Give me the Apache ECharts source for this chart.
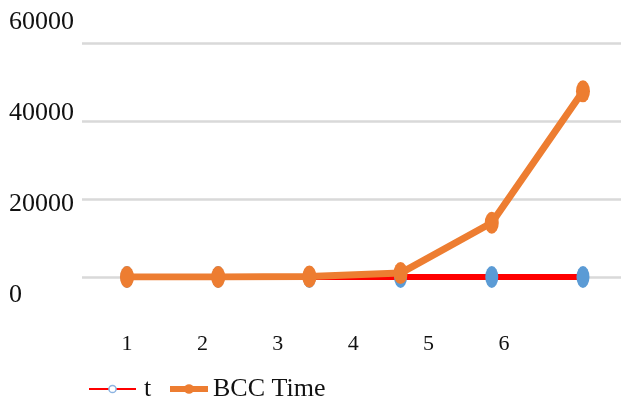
<!DOCTYPE html>
<html>
<head>
<meta charset="utf-8">
<script src="https://cdn.jsdelivr.net/npm/echarts@6/dist/echarts.min.js"></script>
<style>
  html, body { margin: 0; padding: 0; background: #fff; }
  #chart { width: 621px; height: 402px; }
</style>
</head>
<body>
<div id="chart"></div>
<script>
// Run index on the horizontal axis
const categories = [1, 2, 3, 4, 5, 6];
// Series values
const tValues = [0, 0, 0, 0, 0, 0];
const bccTime = [0, 0, 100, 1000, 13900, 47600];
// Tick labels
const yTicks = [0, 20000, 40000, 60000];
const xTicks = ['1', '2', '3', '4', '5', '6'];

const FONT = 'Liberation Serif';
const TEXT = '#111';

const chart = echarts.init(document.getElementById('chart'), null, { renderer: 'canvas' });

const pairs = (vals) => categories.map((c, i) => [c, vals[i]]);

chart.setOption({
  animation: false,
  backgroundColor: '#fff',
  grid: [
    // plotting area
    { left: 82, right: 0, top: 43, bottom: 125 },
    // row of run labels below the plot
    { left: 127, right: 117, top: 330, height: 1 },
    // column of value labels
    { left: 9, width: 1, top: 22, bottom: 107 }
  ],
  xAxis: [
    {
      gridIndex: 0, type: 'value', min: 0.507, max: 6.417,
      axisLine: { show: false }, axisTick: { show: false },
      axisLabel: { show: false }, splitLine: { show: false }
    },
    {
      gridIndex: 1, type: 'value', min: 1, max: 6, interval: 1,
      axisLine: { show: false }, axisTick: { show: false }, splitLine: { show: false },
      axisLabel: {
        margin: 2, fontFamily: FONT, fontSize: 22, color: TEXT,
        formatter: (v) => xTicks[Math.round(v) - 1] || ''
      }
    },
    {
      gridIndex: 2, type: 'value', show: false
    }
  ],
  yAxis: [
    {
      gridIndex: 0, type: 'value', min: yTicks[0], max: yTicks[yTicks.length - 1], interval: 20000,
      axisLine: { show: false }, axisTick: { show: false }, axisLabel: { show: false },
      splitLine: { lineStyle: { color: '#d9d9d9', width: 2.5 } }
    },
    {
      gridIndex: 1, type: 'value', show: false
    },
    {
      gridIndex: 2, type: 'value', min: yTicks[0], max: yTicks[yTicks.length - 1], interval: 20000,
      axisLine: { show: false }, axisTick: { show: false }, splitLine: { show: false },
      axisLabel: {
        margin: 0, align: 'left', fontFamily: FONT, fontSize: 26, color: TEXT,
        formatter: (v) => String(v)
      }
    }
  ],
  legend: [
    {
      left: 88, top: 376, padding: 0,
      itemWidth: 47, itemHeight: 9,
      textStyle: { fontFamily: FONT, fontSize: 26, color: TEXT, padding: [0, 0, 0, 3] },
      data: [{
        name: 't',
        itemStyle: { color: '#fff', borderColor: '#8db4e2', borderWidth: 1.5 },
        lineStyle: { width: 2, color: '#ff0000' }
      }]
    },
    {
      left: 167, top: 376, padding: 0,
      itemWidth: 38, itemHeight: 12,
      textStyle: { fontFamily: FONT, fontSize: 26, color: TEXT },
      data: [{
        name: 'BCC Time',
        lineStyle: { width: 6, color: '#ed7d31' }
      }]
    }
  ],
  series: [
    {
      name: 't', type: 'line',
      xAxisIndex: 0, yAxisIndex: 0,
      data: pairs(tValues),
      symbol: 'circle', symbolSize: [13, 22],
      itemStyle: { color: '#5b9bd5' },
      lineStyle: { color: '#ff0000', width: 6 },
      z: 2
    },
    {
      name: 'BCC Time', type: 'line',
      xAxisIndex: 0, yAxisIndex: 0,
      data: pairs(bccTime),
      symbol: 'circle', symbolSize: [14, 22],
      itemStyle: { color: '#ed7d31' },
      lineStyle: { color: '#ed7d31', width: 7 },
      z: 3
    }
  ]
});
</script>
</body>
</html>
